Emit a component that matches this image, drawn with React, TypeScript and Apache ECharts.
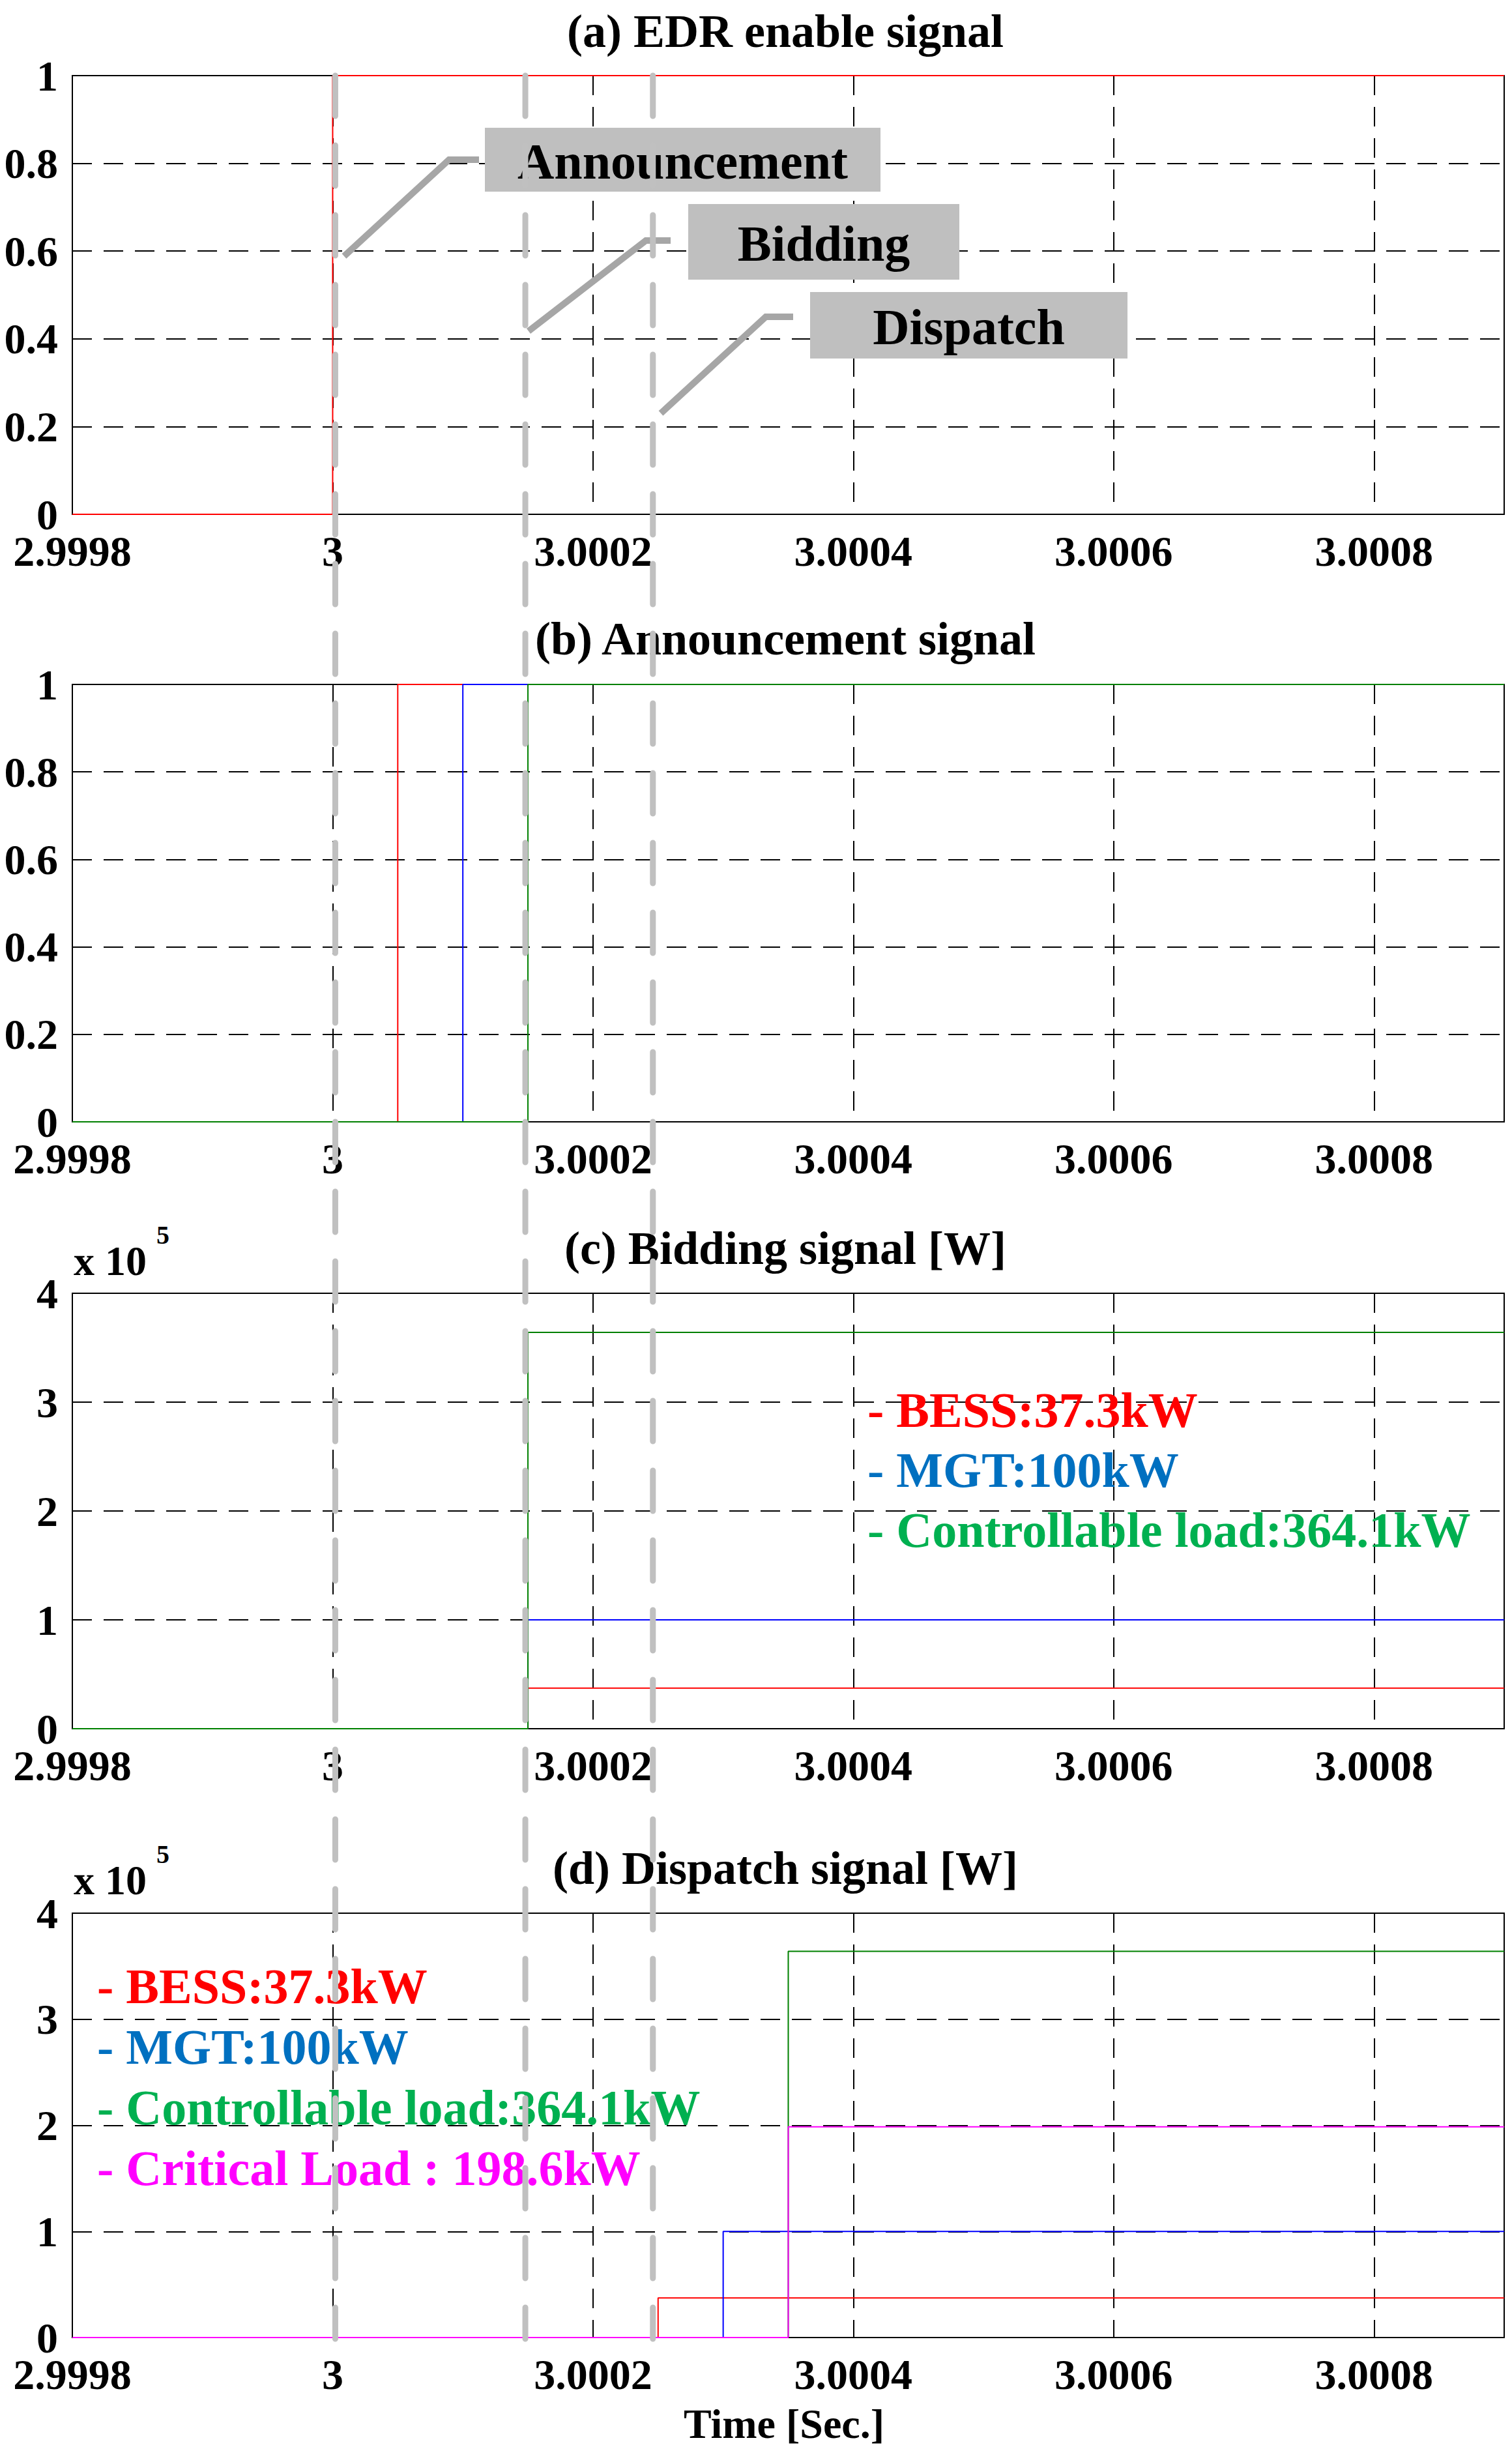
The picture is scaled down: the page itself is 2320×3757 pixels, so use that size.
import React, { useEffect, useRef } from "react";
import * as echarts from "echarts";

const T_MIN = 2.9998;
const T_MAX = 3.0009;
const T_STEP = 0.0002;

// (a) EDR enable signal
const edrT = [2.9998, 3.0, 3.0009];
const edrV = [0, 1, 1];

// (b) Announcement signal
const annBessT = [2.9998, 3.00005, 3.0009];
const annBessV = [0, 1, 1];
const annMgtT = [2.9998, 3.0001, 3.0009];
const annMgtV = [0, 1, 1];
const annClT = [2.9998, 3.00015, 3.0009];
const annClV = [0, 1, 1];

// (c) Bidding signal [W]
const bidT = [2.9998, 3.00015, 3.0009];
const bidBessV = [0, 37300, 37300];
const bidMgtV = [0, 100000, 100000];
const bidClV = [0, 364100, 364100];

// (d) Dispatch signal [W]
const dispBessT = [2.9998, 3.00025, 3.0009];
const dispBessV = [0, 37300, 37300];
const dispMgtT = [2.9998, 3.0003, 3.0009];
const dispMgtV = [0, 100000, 100000];
const dispClT = [2.9998, 3.00035, 3.0009];
const dispClV = [0, 364100, 364100];
const dispCritT = [2.9998, 3.00035, 3.0009];
const dispCritV = [0, 198600, 198600];

// phase markers (Announcement / Bidding / Dispatch start)
const phaseT = [3.000002, 3.000148, 3.000246];
const phaseNames = ["Announcement", "Bidding", "Dispatch"];

const titles = [
  "(a) EDR enable signal",
  "(b) Announcement signal",
  "(c) Bidding signal [W]",
  "(d) Dispatch signal [W]",
];
const bidLegend = ["- BESS:37.3kW", "- MGT:100kW", "- Controllable load:364.1kW"];
const dispLegend = [
  "- BESS:37.3kW",
  "- MGT:100kW",
  "- Controllable load:364.1kW",
  "- Critical Load : 198.6kW",
];
const legendColors = ["#ff0000", "#0070c0", "#00b050", "#ff00ff"];

const RED = "#ff0000";
const BLUE = "#0000ff";
const GREEN = "#008000";
const MAGENTA = "#ff00ff";

const FONT = '"Liberation Serif", "Times New Roman", serif';

const pts = (t: number[], v: number[]) => t.map((x, i) => [x, v[i]]);

const GRID_LAYOUT = [
  { top: 116, height: 673 },
  { top: 1050, height: 671 },
  { top: 1984, height: 668 },
  { top: 2935, height: 651 },
];

export default function App() {
  const ref = useRef<HTMLDivElement>(null);
  useEffect(() => {
    if (!ref.current) return;
    const chart = echarts.init(ref.current, null, { renderer: "svg" });

    const grid = GRID_LAYOUT.map((g) => ({
      left: 111,
      width: 2197,
      top: g.top,
      height: g.height,
      show: true,
      borderColor: "#000",
      borderWidth: 2,
      backgroundColor: "transparent",
    }));

    const fmtX = (v: number) => String(parseFloat(v.toFixed(4)));

    const xAxis = GRID_LAYOUT.map((_, i) => ({
      type: "value",
      gridIndex: i,
      min: T_MIN,
      max: T_MAX,
      interval: T_STEP,
      axisLine: { show: true, onZero: false, lineStyle: { color: "#000", width: 2 } },
      axisTick: { show: false },
      axisLabel: {
        show: true,
        fontSize: 66,
        fontWeight: "bold",
        fontFamily: FONT,
        color: "#000",
        margin: 23,
        showMaxLabel: false,
        showMinLabel: true,
        formatter: fmtX,
      },
      splitLine: { show: true, lineStyle: { color: "#000", width: 2, type: [30, 18] } },
    }));

    const yAxis = GRID_LAYOUT.map((_, i) => {
      const big = i >= 2;
      return {
        type: "value",
        gridIndex: i,
        min: 0,
        max: big ? 400000 : 1,
        interval: big ? 100000 : 0.2,
        axisLine: { show: true, lineStyle: { color: "#000", width: 2 } },
        axisTick: { show: false },
        axisLabel: {
          fontSize: 66,
          fontWeight: "bold",
          fontFamily: FONT,
          color: "#000",
          margin: 22,
          formatter: big
            ? (v: number) => String(Math.round(v / 100000))
            : (v: number) => String(parseFloat(v.toFixed(1))),
        },
        splitLine: { show: true, lineStyle: { color: "#000", width: 2, type: [30, 18] } },
      };
    });

    const mk = (name: string, idx: number, data: number[][], color: string) => ({
      name,
      type: "line",
      xAxisIndex: idx,
      yAxisIndex: idx,
      step: "end",
      symbol: "none",
      data,
      lineStyle: { color, width: 2 },
      itemStyle: { color },
    });

    const series = [
      mk("EDR", 0, pts(edrT, edrV), RED),
      mk("Ann BESS", 1, pts(annBessT, annBessV), RED),
      mk("Ann MGT", 1, pts(annMgtT, annMgtV), BLUE),
      mk("Ann CL", 1, pts(annClT, annClV), GREEN),
      mk("Bid BESS", 2, pts(bidT, bidBessV), RED),
      mk("Bid MGT", 2, pts(bidT, bidMgtV), BLUE),
      mk("Bid CL", 2, pts(bidT, bidClV), GREEN),
      mk("Disp BESS", 3, pts(dispBessT, dispBessV), RED),
      mk("Disp MGT", 3, pts(dispMgtT, dispMgtV), BLUE),
      mk("Disp CL", 3, pts(dispClT, dispClV), GREEN),
      mk("Disp Crit", 3, pts(dispCritT, dispCritV), MAGENTA),
    ];

    chart.setOption({
      animation: false,
      backgroundColor: "#fff",
      grid,
      xAxis,
      yAxis,
      series,
    });

    const titleY = [48, 980, 1915, 2866];
    const graphic: any[] = [];
    titles.forEach((t, i) => {
      graphic.push({
        type: "text",
        x: 1205,
        y: titleY[i],
        z: 10,
        style: {
          text: t,
          fill: "#000",
          font: `bold 72px ${FONT}`,
          textAlign: "center",
          textVerticalAlign: "middle",
        },
      });
    });

    // x 10^5 labels
    [1934, 2884].forEach((cy) => {
      graphic.push({
        type: "text",
        x: 113,
        y: cy,
        z: 10,
        style: { text: "x 10", fill: "#000", font: `bold 64px ${FONT}`, textAlign: "left", textVerticalAlign: "middle" },
      });
      graphic.push({
        type: "text",
        x: 240,
        y: cy - 40,
        z: 10,
        style: { text: "5", fill: "#000", font: `bold 40px ${FONT}`, textAlign: "left", textVerticalAlign: "middle" },
      });
    });

    // legends
    const bidY = [2163, 2255, 2347];
    bidLegend.forEach((t, i) => {
      graphic.push({
        type: "text",
        x: 1331,
        y: bidY[i],
        z: 10,
        style: { text: t, fill: legendColors[i], font: `bold 76px ${FONT}`, textAlign: "left", textVerticalAlign: "middle" },
      });
    });
    const dispY = [3047, 3140, 3233, 3326];
    dispLegend.forEach((t, i) => {
      graphic.push({
        type: "text",
        x: 149,
        y: dispY[i],
        z: 10,
        style: { text: t, fill: legendColors[i], font: `bold 76px ${FONT}`, textAlign: "left", textVerticalAlign: "middle" },
      });
    });

    // x axis name
    graphic.push({
      type: "text",
      x: 1203,
      y: 3718,
      z: 10,
      style: { text: "Time [Sec.]", fill: "#000", font: `bold 64px ${FONT}`, textAlign: "center", textVerticalAlign: "middle" },
    });

    // annotation boxes in (a)
    const boxes = [
      { x: 744, y: 196, w: 607, h: 98 },
      { x: 1056, y: 313, w: 416, h: 116 },
      { x: 1243, y: 448, w: 487, h: 102 },
    ];
    const leaders = [
      [[528, 393], [689, 245], [735, 245]],
      [[811, 508], [991, 369], [1029, 369]],
      [[1014, 634], [1175, 486], [1217, 486]],
    ];
    boxes.forEach((b, i) => {
      graphic.push({
        type: "rect",
        z: 20,
        shape: { x: b.x, y: b.y, width: b.w, height: b.h },
        style: { fill: "#bfbfbf" },
      });
      graphic.push({
        type: "text",
        x: b.x + b.w / 2,
        y: b.y + b.h / 2 + 2,
        z: 21,
        style: {
          text: phaseNames[i],
          fill: "#000",
          font: `bold 78px ${FONT}`,
          textAlign: "center",
          textVerticalAlign: "middle",
        },
      });
      graphic.push({
        type: "polyline",
        z: 21,
        shape: { points: leaders[i] },
        style: { stroke: "#a6a6a6", lineWidth: 10, fill: null },
      });
    });

    // phase vertical dashed lines spanning the figure
    phaseT.forEach((t) => {
      const px = chart.convertToPixel({ xAxisIndex: 0 }, t) as number;
      graphic.push({
        type: "line",
        z: 30,
        shape: { x1: px, y1: 116, x2: px, y2: 3588 },
        style: { stroke: "#c0c0c0", lineWidth: 9, lineDash: [62, 45], lineCap: "round" },
      });
    });

    chart.setOption({ graphic });

    return () => chart.dispose();
  }, []);

  return (
    <div
      ref={ref}
      style={{ position: "absolute", left: 0, top: 0, width: 2320, height: 3757, background: "#fff" }}
    />
  );
}
